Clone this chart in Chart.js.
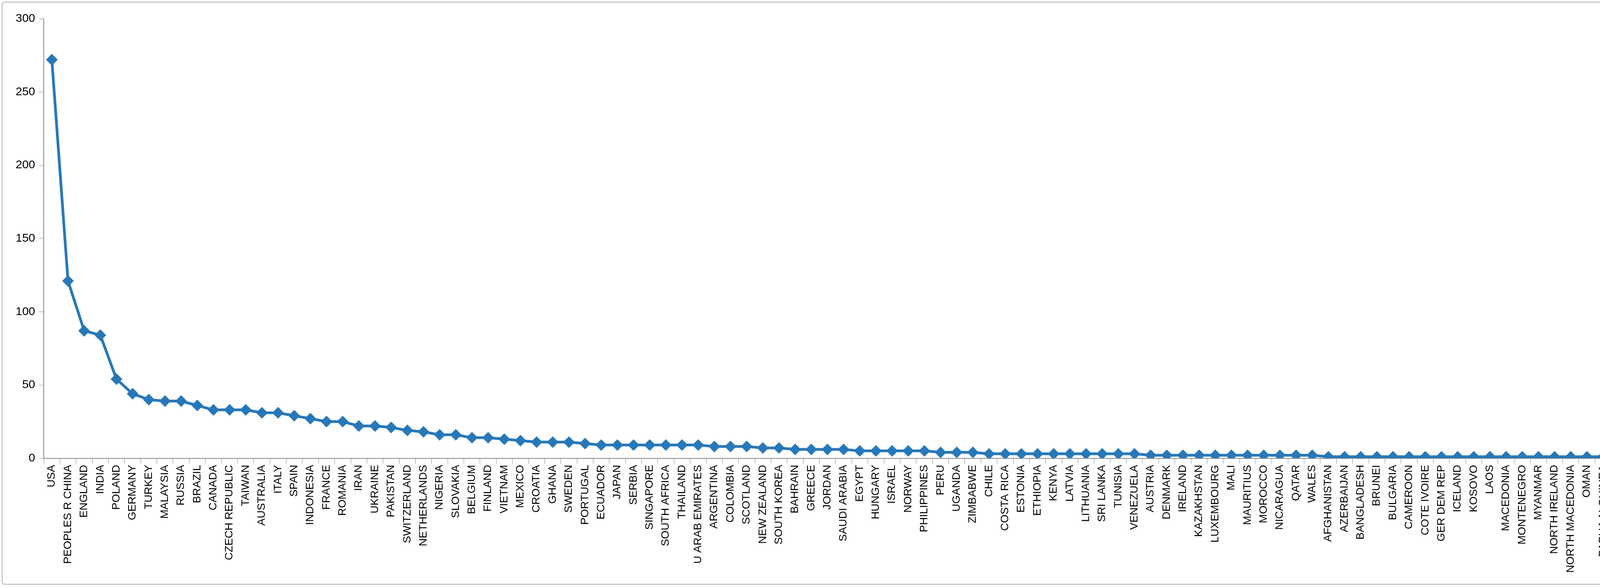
<!DOCTYPE html>
<html>
<head>
<meta charset="utf-8">
<script src="https://cdn.jsdelivr.net/npm/chart.js@4"></script>
<style>
  html, body { margin: 0; padding: 0; background: #fff; overflow: hidden; }
  #frame { position: absolute; left: 4px; top: 4px; width: 4341px; height: 1494px;
           border: 3px solid #c8c8c8; border-radius: 8px; box-sizing: border-box; }
  #myChart { position: absolute; left: 20px; top: 20px; }
</style>
</head>
<body>
<div id="frame"></div>
<canvas id="myChart" width="4300" height="1460"></canvas>
<script>
// countries, in order as they appear on the x axis
var countries = ["USA", "PEOPLES R CHINA", "ENGLAND", "INDIA", "POLAND", "GERMANY", "TURKEY", "MALAYSIA", "RUSSIA", "BRAZIL",
    "CANADA", "CZECH REPUBLIC", "TAIWAN", "AUSTRALIA", "ITALY", "SPAIN", "INDONESIA", "FRANCE", "ROMANIA", "IRAN",
    "UKRAINE", "PAKISTAN", "SWITZERLAND", "NETHERLANDS", "NIGERIA", "SLOVAKIA", "BELGIUM", "FINLAND", "VIETNAM", "MEXICO",
    "CROATIA", "GHANA", "SWEDEN", "PORTUGAL", "ECUADOR", "JAPAN", "SERBIA", "SINGAPORE", "SOUTH AFRICA", "THAILAND",
    "U ARAB EMIRATES", "ARGENTINA", "COLOMBIA", "SCOTLAND", "NEW ZEALAND", "SOUTH KOREA", "BAHRAIN", "GREECE", "JORDAN", "SAUDI ARABIA",
    "EGYPT", "HUNGARY", "ISRAEL", "NORWAY", "PHILIPPINES", "PERU", "UGANDA", "ZIMBABWE", "CHILE", "COSTA RICA",
    "ESTONIA", "ETHIOPIA", "KENYA", "LATVIA", "LITHUANIA", "SRI LANKA", "TUNISIA", "VENEZUELA", "AUSTRIA", "DENMARK",
    "IRELAND", "KAZAKHSTAN", "LUXEMBOURG", "MALI", "MAURITIUS", "MOROCCO", "NICARAGUA", "QATAR", "WALES", "AFGHANISTAN",
    "AZERBAIJAN", "BANGLADESH", "BRUNEI", "BULGARIA", "CAMEROON", "COTE IVOIRE", "GER DEM REP", "ICELAND", "KOSOVO", "LAOS",
    "MACEDONIA", "MONTENEGRO", "MYANMAR", "NORTH IRELAND", "NORTH MACEDONIA", "OMAN", "PAPUA N GUINEA", "SLOVENIA", "TANZANIA", "UZBEKISTAN",
    "WEST GERMANY"];

var counts = [272, 121, 87, 84, 54, 44, 40, 39, 39, 36,
    33, 33, 33, 31, 31, 29, 27, 25, 25, 22,
    22, 21, 19, 18, 16, 16, 14, 14, 13, 12,
    11, 11, 11, 10, 9, 9, 9, 9, 9, 9,
    9, 8, 8, 8, 7, 7, 6, 6, 6, 6,
    5, 5, 5, 5, 5, 4, 4, 4, 3, 3,
    3, 3, 3, 3, 3, 3, 3, 3, 2, 2,
    2, 2, 2, 2, 2, 2, 2, 2, 2, 1,
    1, 1, 1, 1, 1, 1, 1, 1, 1, 1,
    1, 1, 1, 1, 1, 1, 1, 1, 1, 1,
    1];

var yTicks = [0, 50, 100, 150, 200, 250, 300];

var blue = "#2878B8";
var ctx = document.getElementById("myChart");
new Chart(ctx, {
    type: 'line',
    data: {
        labels: countries,
        datasets: [{
            data: counts,
            borderColor: blue,
            backgroundColor: blue,
            borderWidth: 7,
            lineTension: 0,
            pointStyle: 'rectRot',
            pointRadius: 10,
            pointBackgroundColor: blue,
            pointBorderColor: blue,
            fill: false
        }]
    },
    options: {
        responsive: false,
        maintainAspectRatio: false,
        devicePixelRatio: 1,
        animation: false,
        plugins: { legend: { display: false }, tooltip: { enabled: false } },
        layout: { padding: { top: 20, right: 30, left: 10, bottom: 10 } },
        scales: {
            x: {
                offset: true,
                grid: { display: true, drawOnChartArea: false, offset: true, color: '#888', tickLength: 14 },
                border: { color: '#888', width: 2 },
                ticks: {
                    autoSkip: false, maxRotation: 90, minRotation: 90,
                    font: { family: 'Liberation Sans', size: 28 }, color: '#000'
                }
            },
            y: {
                min: 0, max: 300,
                afterBuildTicks: function (axis) { axis.ticks = yTicks.map(function (v) { return { value: v }; }); },
                grid: { display: true, drawOnChartArea: false, color: '#888', tickLength: 12 },
                border: { color: '#888', width: 2 },
                ticks: { font: { family: 'Liberation Sans', size: 30 }, color: '#000', padding: 10 }
            }
        }
    }
});
</script>
</body>
</html>
